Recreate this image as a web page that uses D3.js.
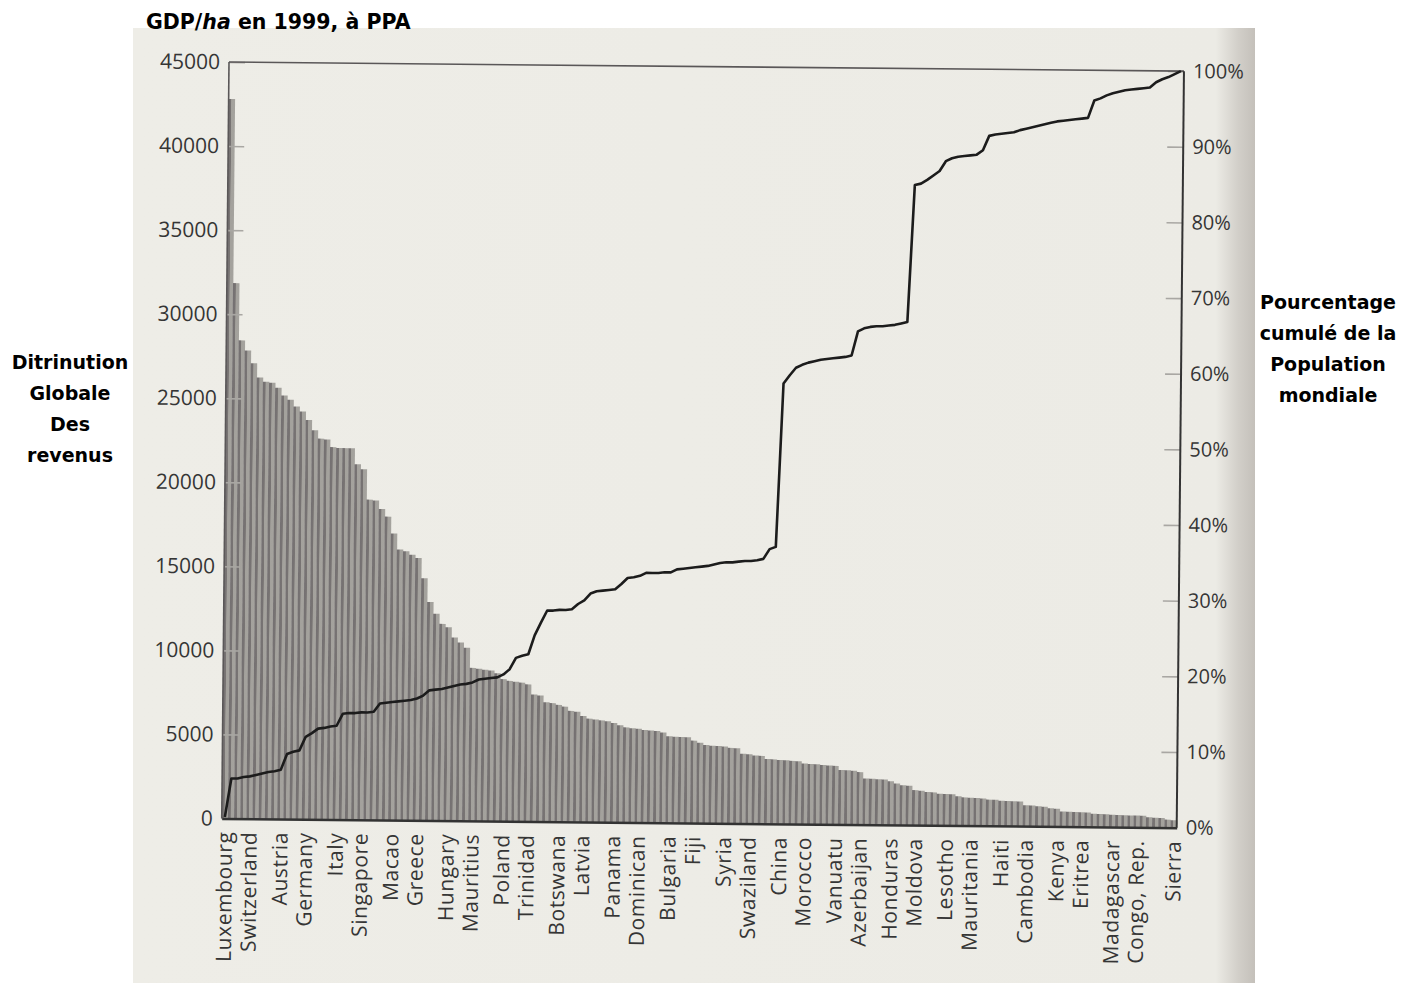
<!DOCTYPE html>
<html>
<head>
<meta charset="utf-8">
<script src="https://cdn.jsdelivr.net/npm/d3@7"></script>
<style>
  body { margin: 0; background: #fff; }
  svg { display: block; }
  .overlay { font-family: "DejaVu Sans", sans-serif; font-weight: bold; font-size: 19px; fill: #000; }
  .scan text { font-family: "Open Sans", sans-serif; fill: #353535; }
</style>
</head>
<body>
<svg id="chart" width="1418" height="983"></svg>
<script>
// GDP per head in 1999 (PPP $), one bar per country, richest first
var gdp = [
  42800, 31850, 28450, 27850, 27100, 26250, 26000, 25950, 25650, 25200,
  24950, 24550, 24250, 23750, 23150, 22650, 22600, 22150, 22100, 22100,
  22100, 21150, 20850, 19050, 19000, 18500, 18050, 17050, 16100, 16000,
  15800, 15600, 14400, 13000, 12300, 11700, 11500, 10900, 10600, 10300,
  9100, 9050, 9000, 8950, 8800, 8450, 8350, 8300, 8250, 8150,
  7550, 7500, 7100, 7050, 6950, 6850, 6600, 6550, 6300, 6150,
  6100, 6050, 6000, 5900, 5770, 5650, 5600, 5580, 5500, 5480,
  5450, 5360, 5150, 5120, 5110, 5100, 4900, 4780, 4650, 4600,
  4590, 4570, 4490, 4470, 4150, 4120, 4050, 4030, 3850, 3830,
  3800, 3780, 3750, 3730, 3600, 3580, 3570, 3520, 3500, 3480,
  3240, 3220, 3200, 3120, 2750, 2730, 2710, 2700, 2600, 2460,
  2360, 2340, 2080, 2050, 1980, 1960, 1880, 1870, 1860, 1740,
  1680, 1660, 1650, 1620, 1560, 1550, 1500, 1490, 1480, 1470,
  1250, 1230, 1190, 1170, 1080, 1050, 900, 880, 870, 860,
  850, 780, 770, 760, 730, 720, 710, 700, 700, 690,
  600, 580, 560, 470, 440
];

// cumulative share of world population (%), same order
var cumPop = [
  0.2, 5.3, 5.3, 5.5, 5.6, 5.8, 6.0, 6.2, 6.3, 6.5,
  8.6, 8.9, 9.1, 10.9, 11.4, 12.0, 12.1, 12.3, 12.4, 14.0,
  14.1, 14.1, 14.2, 14.2, 14.3, 15.4, 15.5, 15.6, 15.7, 15.8,
  15.9, 16.1, 16.5, 17.2, 17.3, 17.4, 17.6, 17.8, 18.0, 18.1,
  18.3, 18.7, 18.8, 18.9, 19.0, 19.4, 20.1, 21.6, 21.9, 22.1,
  24.6, 26.3, 27.9, 27.9, 28.0, 28.0, 28.1, 28.8, 29.3, 30.2,
  30.5, 30.6, 30.7, 30.8, 31.5, 32.3, 32.4, 32.6, 33.0, 33.0,
  33.0, 33.1, 33.1, 33.5, 33.6, 33.7, 33.8, 33.9, 34.0, 34.2,
  34.4, 34.5, 34.5, 34.6, 34.7, 34.7, 34.8, 35.0, 36.3, 36.6,
  58.2, 59.3, 60.3, 60.7, 61.0, 61.2, 61.4, 61.5, 61.6, 61.7,
  61.8, 62.0, 65.2, 65.6, 65.8, 65.9, 65.9, 66.0, 66.1, 66.3,
  66.5, 84.6, 84.8, 85.3, 85.9, 86.5, 87.8, 88.2, 88.4, 88.5,
  88.6, 88.7, 89.3, 91.2, 91.4, 91.5, 91.6, 91.7, 92.0, 92.2,
  92.4, 92.6, 92.8, 93.0, 93.2, 93.3, 93.4, 93.5, 93.6, 93.7,
  96.0, 96.3, 96.7, 97.0, 97.2, 97.4, 97.5, 97.6, 97.7, 97.8,
  98.5, 98.9, 99.2, 99.6, 100
];

// only some bars carry a name
var countries = ["Luxembourg", "Switzerland", "Austria", "Germany", "Italy", "Singapore",
  "Macao", "Greece", "Hungary", "Mauritius", "Poland", "Trinidad", "Botswana", "Latvia",
  "Panama", "Dominican", "Bulgaria", "Fiji", "Syria", "Swaziland", "China", "Morocco",
  "Vanuatu", "Azerbaijan", "Honduras", "Moldova", "Lesotho", "Mauritania", "Haiti",
  "Cambodia", "Kenya", "Eritrea", "Madagascar", "Congo, Rep.", "Sierra"];
var countryBar = [0, 4, 9, 13, 18, 22, 27, 31, 36, 40, 45, 49, 54, 58, 63, 67, 72, 76,
  81, 85, 90, 94, 99, 103, 108, 112, 117, 121, 126, 130, 135, 139, 144, 148, 154];

var gdpTicks = [0, 5000, 10000, 15000, 20000, 25000, 30000, 35000, 40000, 45000];
var popTicks = [0, 10, 20, 30, 40, 50, 60, 70, 80, 90, 100];

var title = "GDP/ha en 1999, à PPA";
var leftNote = ["Ditrinution", "Globale", "Des", "revenus"];
var rightNote = ["Pourcentage", "cumulé de la", "Population", "mondiale"];

var margin = {top: 62, left: 229}
  , width = 955
  , height = 756.5
  , tilt = 0.55;   // the scanned page is slightly skewed

var svg = d3.select('#chart');
var defs = svg.append('defs');

// paper of the scan, with the fold shadow on the right
var paper = defs.append('linearGradient').attr('id', 'paper');
paper.append('stop').attr('offset', '0').attr('stop-color', '#eeede7');
paper.append('stop').attr('offset', '0.965').attr('stop-color', '#ecebe5');
paper.append('stop').attr('offset', '0.985').attr('stop-color', '#d2cfc9');
paper.append('stop').attr('offset', '1').attr('stop-color', '#c4c0ba');

var shade = defs.append('linearGradient').attr('id', 'barShade');
shade.append('stop').attr('offset', '0').attr('stop-color', '#747072');
shade.append('stop').attr('offset', '0.38').attr('stop-color', '#787473');
shade.append('stop').attr('offset', '0.45').attr('stop-color', '#a3a19c');
shade.append('stop').attr('offset', '1').attr('stop-color', '#a5a39e');

svg.append('rect')
    .attr('x', 133).attr('y', 28)
    .attr('width', 1122).attr('height', 955)
    .attr('fill', 'url(#paper)');

var g = svg.append('g')
    .attr('class', 'scan')
    .attr('transform', 'translate(' + margin.left + ',' + margin.top + ') rotate(' + tilt + ')');

var x = d3.scaleBand().domain(d3.range(gdp.length)).range([0, width]);
var y = d3.scaleLinear().domain([0, 45000]).range([height, 0]);
var y2 = d3.scaleLinear().domain([0, 100]).range([height, 0]);

// bars
g.append('g').selectAll('rect')
    .data(gdp)
  .enter().append('rect')
    .attr('x', function(d, i) { return x(i); })
    .attr('width', x.bandwidth() + 0.3)
    .attr('y', function(d) { return y(d); })
    .attr('height', function(d) { return height - y(d); })
    .attr('fill', 'url(#barShade)');

// left axis
var axL = g.append('g')
    .call(d3.axisLeft(y).tickValues(gdpTicks).tickFormat(d3.format('d'))
      .tickSizeInner(-16).tickSizeOuter(0).tickPadding(9));
axL.select('.domain').remove();
axL.selectAll('line').attr('stroke', '#a9a7a3').attr('stroke-width', 1.6);
axL.selectAll('text').attr('font-size', 21).attr('fill', '#353535');

// right axis
var axR = g.append('g')
    .attr('transform', 'translate(' + width + ',0)')
    .call(d3.axisRight(y2).tickValues(popTicks).tickFormat(function(d) { return d + '%'; })
      .tickSizeInner(-16).tickSizeOuter(0).tickPadding(9));
axR.select('.domain').remove();
axR.selectAll('line').attr('stroke', '#a9a7a3').attr('stroke-width', 1.6);
axR.selectAll('text').attr('font-size', 20).attr('fill', '#4a4a4a');

// frame
g.append('line').attr('x1', 0).attr('x2', width).attr('y1', 0).attr('y2', 0)
    .attr('stroke', '#5a5758').attr('stroke-width', 1.6);
g.append('line').attr('x1', 0).attr('x2', 0).attr('y1', 0).attr('y2', height)
    .attr('stroke', '#5a5758').attr('stroke-width', 1.6);
g.append('line').attr('x1', width).attr('x2', width).attr('y1', 0).attr('y2', height)
    .attr('stroke', '#333').attr('stroke-width', 2);

// country names under the bars
var nameOf = {};
countryBar.forEach(function(b, k) { nameOf[b] = countries[k]; });
var axB = g.append('g')
    .attr('transform', 'translate(0,' + height + ')')
    .call(d3.axisBottom(x).tickValues(countryBar)
      .tickFormat(function(i) { return nameOf[i]; }).tickSize(0));
axB.select('.domain').attr('stroke', '#333').attr('stroke-width', 2.5);
axB.selectAll('text')
    .attr('font-size', 21)
    .attr('letter-spacing', 0.6)
    .attr('fill', '#2e2e2e')
    .attr('text-anchor', 'end')
    .attr('transform', 'rotate(-90)')
    .attr('x', -13).attr('y', 0).attr('dy', '0.35em');

// cumulative population
g.append('path')
    .datum(cumPop)
    .attr('fill', 'none')
    .attr('stroke', '#1c1c1c')
    .attr('stroke-width', 2.6)
    .attr('stroke-linejoin', 'round')
    .attr('d', d3.line()
      .x(function(d, i) { return x(i) + x.bandwidth() / 2; })
      .y(function(d) { return y2(d); }));

// notes pasted on top of the scan
var t = svg.append('text').attr('class', 'overlay')
    .attr('x', 146).attr('y', 29).style('font-size', '20.5px');
t.append('tspan').text('GDP/');
t.append('tspan').attr('font-style', 'italic').text('ha');
t.append('tspan').text(title.slice(6));

svg.append('g').selectAll('text')
    .data(leftNote)
  .enter().append('text')
    .attr('class', 'overlay')
    .attr('text-anchor', 'middle')
    .attr('x', 70)
    .attr('y', function(d, i) { return 369 + i * 31; })
    .text(function(d) { return d; });

svg.append('g').selectAll('text')
    .data(rightNote)
  .enter().append('text')
    .attr('class', 'overlay')
    .attr('text-anchor', 'middle')
    .attr('x', 1328)
    .attr('y', function(d, i) { return 309 + i * 31; })
    .text(function(d) { return d; });
</script>
</body>
</html>
